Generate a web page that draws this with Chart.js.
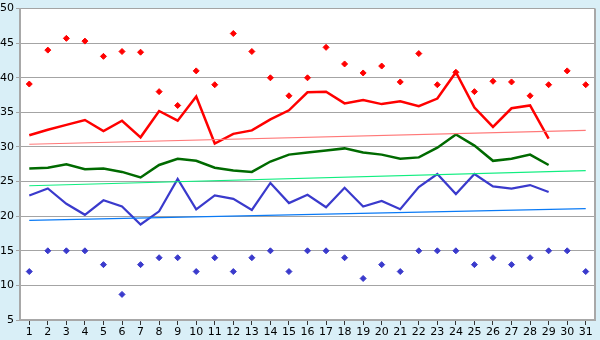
<!DOCTYPE html>
<html>
<head>
<meta charset="utf-8">
<script src="https://cdn.jsdelivr.net/npm/chart.js@4"></script>
<style>
  html, body { margin: 0; padding: 0; background: #d9eff7; }
  #wrap { width: 600px; height: 340px; }
</style>
</head>
<body>
<div id="wrap"><canvas id="chart" width="600" height="340"></canvas></div>
<script>
// days of the month
const days = ["1","2","3","4","5","6","7","8","9","10","11","12","13","14","15","16",
              "17","18","19","20","21","22","23","24","25","26","27","28","29","30","31"];

// record highs (red diamonds)
const recordHigh = [39.1, 44.0, 45.7, 45.3, 43.1, 43.8, 43.7, 38.0, 36.0, 41.0,
                    39.0, 46.4, 43.8, 40.0, 37.4, 40.0, 44.4, 42.0, 40.7, 41.7,
                    39.4, 43.5, 39.0, 40.8, 38.0, 39.5, 39.4, 37.4, 39.0, 41.0, 39.0];

// average max (red line)
const maxTemp = [31.7, 32.5, 33.2, 33.9, 32.3, 33.8, 31.4, 35.2, 33.8, 37.3,
                 30.5, 31.9, 32.4, 34.0, 35.3, 37.9, 38.0, 36.3, 36.8, 36.2,
                 36.6, 35.9, 37.0, 40.8, 35.7, 32.9, 35.6, 36.0, 31.2, null, null];

// average mean (green line)
const meanTemp = [26.9, 27.0, 27.5, 26.8, 26.9, 26.4, 25.6, 27.4, 28.3, 28.0,
                  27.0, 26.6, 26.4, 27.9, 28.9, 29.2, 29.5, 29.8, 29.2, 28.9,
                  28.3, 28.5, 29.9, 31.8, 30.2, 28.0, 28.3, 28.9, 27.4, null, null];

// average min (blue line)
const minTemp = [23.0, 24.0, 21.8, 20.2, 22.3, 21.4, 18.8, 20.7, 25.4, 21.0,
                 23.0, 22.5, 20.9, 24.8, 21.9, 23.1, 21.3, 24.1, 21.4, 22.2,
                 21.0, 24.2, 26.1, 23.2, 26.1, 24.3, 24.0, 24.5, 23.5, null, null];

// record lows (blue diamonds)
const recordLow = [12, 15, 15, 15, 13, 8.7, 13, 14, 14, 12,
                   14, 12, 14, 15, 12, 15, 15, 14, 11, 13,
                   12, 15, 15, 15, 13, 14, 13, 14, 15, 15, 12];

// trend lines: value at day 1 and day 31
const maxTrend  = [30.4, 32.4];
const meanTrend = [24.4, 26.6];
const minTrend  = [19.4, 21.1];

const yTicks = { min: 5, max: 50, step: 5 };

function trend(ends) {
    const arr = days.map(() => null);
    arr[0] = ends[0];
    arr[days.length - 1] = ends[1];
    return arr;
}

// white plot area + right border
const plotFrame = {
    id: "plotFrame",
    beforeDraw(chart) {
        const a = chart.chartArea, ctx = chart.ctx;
        ctx.save();
        ctx.fillStyle = "#ffffff";
        ctx.fillRect(a.left, a.top, a.right - a.left, a.bottom - a.top);
        ctx.restore();
    },
    afterDraw(chart) {
        const a = chart.chartArea, ctx = chart.ctx;
        ctx.save();
        ctx.strokeStyle = "#a8a8a8";
        ctx.lineWidth = 2;
        ctx.beginPath();
        ctx.moveTo(a.right, a.top);
        ctx.lineTo(a.right, a.bottom);
        ctx.stroke();
        ctx.restore();
    }
};

const lineDs = (data, color, width) => ({
    data, borderColor: color, backgroundColor: color, borderWidth: width,
    pointRadius: 0, tension: 0, fill: false, spanGaps: false
});
const trendDs = (data, color) => ({
    data, borderColor: color, backgroundColor: color, borderWidth: 1.2,
    pointRadius: 0, tension: 0, fill: false, spanGaps: true
});
const dotDs = (data, color) => ({
    data, borderColor: color, backgroundColor: color, showLine: false,
    pointStyle: "rectRot", pointRadius: 3, pointBorderWidth: 1
});

new Chart(document.getElementById("chart"), {
    type: "line",
    data: {
        labels: days,
        datasets: [
            trendDs(trend(maxTrend), "#ff7878"),
            trendDs(trend(meanTrend), "#11ee80"),
            trendDs(trend(minTrend), "#0a7af5"),
            lineDs(maxTemp, "#ff0000", 2.5),
            lineDs(meanTemp, "#006a00", 2.5),
            lineDs(minTemp, "#3a3acc", 2.2),
            dotDs(recordHigh, "#ff0000"),
            dotDs(recordLow, "#3a3acc")
        ]
    },
    options: {
        responsive: false,
        animation: false,
        events: [],
        layout: { padding: { top: 5, right: 5, left: 0, bottom: 0 } },
        plugins: { legend: { display: false }, tooltip: { enabled: false } },
        scales: {
            x: {
                offset: true,
                grid: { drawOnChartArea: false, drawTicks: true, tickLength: 5, color: "#333333" },
                border: { display: true, color: "#a8a8a8", width: 2 },
                ticks: { color: "#000000", padding: 1, maxRotation: 0, autoSkip: false,
                         font: { family: "DejaVu Sans", size: 11 } },
                afterFit(scale) { scale.height = 20; }
            },
            y: {
                min: yTicks.min, max: yTicks.max,
                grid: { color: "#a4a4a4", lineWidth: 1, drawTicks: true, tickLength: 4 },
                border: { display: true, color: "#a8a8a8", width: 2 },
                ticks: { stepSize: yTicks.step, color: "#000000", padding: 2,
                         font: { family: "DejaVu Sans", size: 11 } },
                afterFit(scale) { scale.width = 20; }
            }
        }
    },
    plugins: [plotFrame]
});
</script>
</body>
</html>
